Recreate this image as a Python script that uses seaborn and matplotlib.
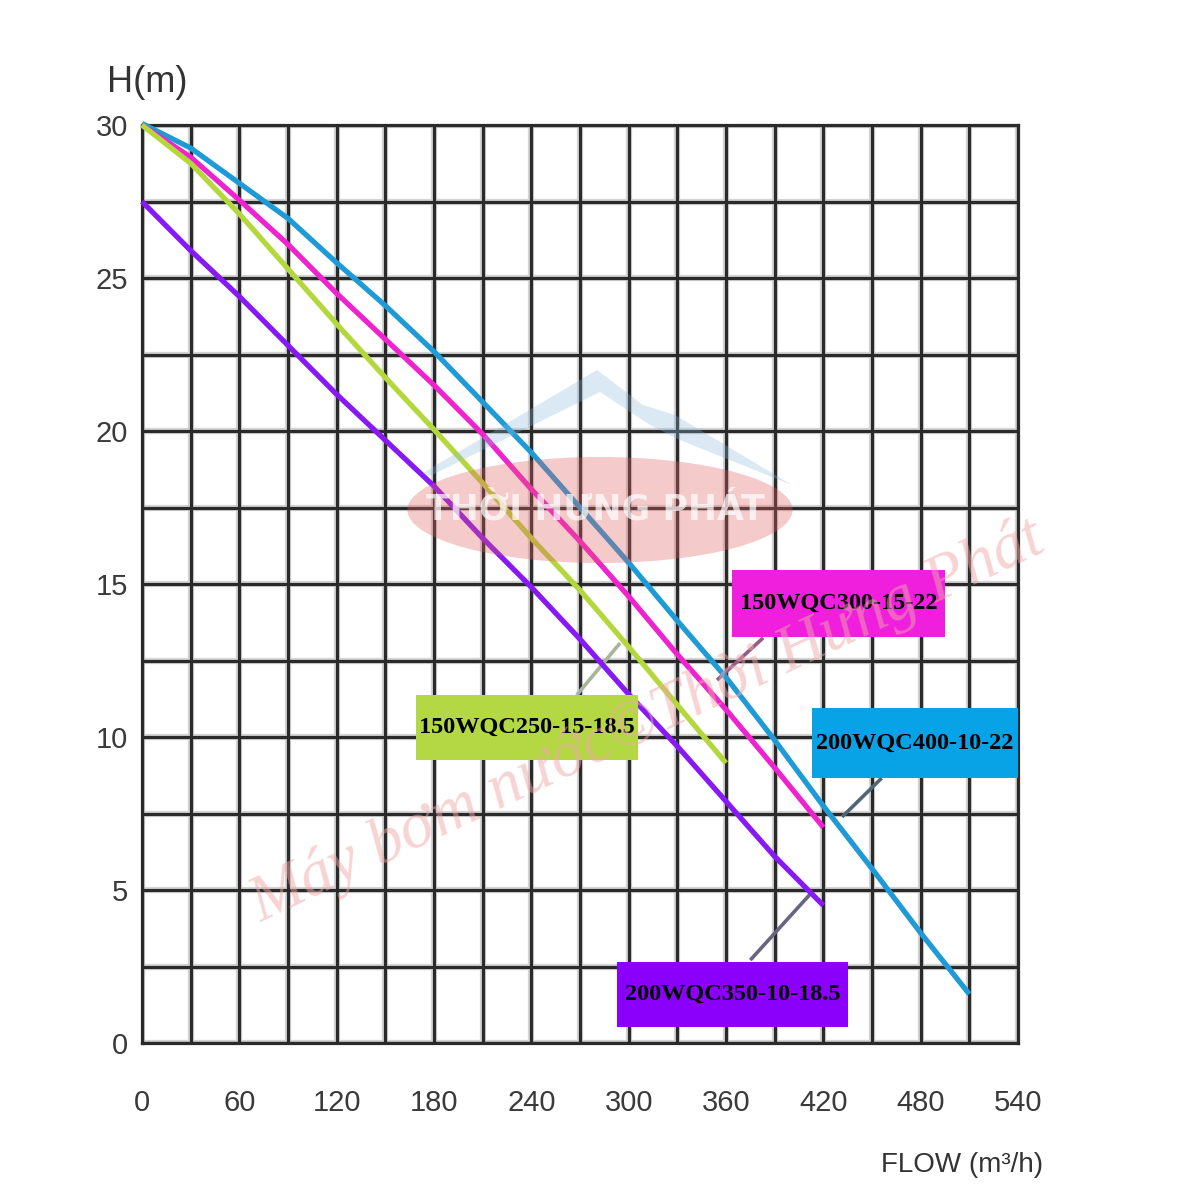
import numpy as np
import pandas as pd
import matplotlib
matplotlib.use("Agg")
import matplotlib.pyplot as plt
import seaborn as sns
from matplotlib.patches import Rectangle, Ellipse, Polygon

# ---------------- data ----------------
flow_400 = [0, 30, 60, 90, 120, 150, 180, 210, 240, 270, 300, 330, 360, 390, 420, 450, 480, 510]
head_400 = [30.05, 29.25, 28.1, 26.95, 25.5, 24.1, 22.6, 20.95, 19.3, 17.5, 15.7, 13.8, 11.95, 9.9, 7.75, 5.7, 3.6, 1.6]

flow_300 = [0, 30, 60, 90, 120, 150, 180, 210, 240, 270, 300, 330, 360, 390, 420]
head_300 = [30.0, 28.95, 27.55, 26.1, 24.5, 23.0, 21.5, 19.9, 18.1, 16.4, 14.6, 12.7, 10.9, 9.0, 7.05]

flow_250 = [0, 30, 60, 90, 120, 150, 180, 210, 240, 270, 300, 330, 360]
head_250 = [30.0, 28.75, 27.1, 25.3, 23.5, 21.75, 20.05, 18.3, 16.5, 14.8, 12.95, 11.05, 9.15]

flow_350 = [0, 30, 60, 90, 120, 150, 180, 210, 240, 270, 300, 330, 360, 390, 420]
head_350 = [27.5, 25.9, 24.4, 22.8, 21.2, 19.7, 18.2, 16.5, 14.9, 13.2, 11.4, 9.7, 7.9, 6.1, 4.5]

models = ["200WQC400-10-22", "150WQC300-15-22", "150WQC250-15-18.5", "200WQC350-10-18.5"]
line_colors = ["#1e9bd7", "#ef22cf", "#b4d73c", "#8719f5"]
box_colors = ["#08a2e6", "#ef1fdd", "#b3d843", "#8a00fa"]

x_ticks = [0, 60, 120, 180, 240, 300, 360, 420, 480, 540]
x_minor = [30, 90, 150, 210, 270, 330, 390, 450, 510]
y_ticks = [0, 5, 10, 15, 20, 25, 30]
y_minor = [2.5, 7.5, 12.5, 17.5, 22.5, 27.5]

x_label = "FLOW (m³/h)"
y_label = "H(m)"
watermark = "Máy bơm nước©Thời Hưng Phát"
logo_text = "THỜI HƯNG PHÁT"

# ---------------- layout constants ----------------
box_pos = {
    "150WQC300-15-22": (363.7, 13.27, 495.0, 15.46),
    "150WQC250-15-18.5": (168.9, 9.25, 305.8, 11.37),
    "200WQC400-10-22": (413.0, 8.66, 540.0, 10.95),
    "200WQC350-10-18.5": (292.8, 0.52, 435.3, 2.65),
}
leader_pos = {
    "150WQC300-15-22": ((382.9, 354.5), (13.24, 11.86), "#9a5a86"),
    "150WQC250-15-18.5": ((268.0, 294.7), (11.37, 13.07), "#a7b59c"),
    "200WQC400-10-22": ((456.0, 431.6), (8.66, 7.39), "#4f6676"),
    "200WQC350-10-18.5": ((413.0, 375.0), (4.93, 2.71), "#6a6480"),
}

# ---------------- figure ----------------
sns.set_theme(style="white")
plt.rcParams['font.family'] = ['Liberation Sans', 'DejaVu Sans']

fig = plt.figure(figsize=(12, 12), dpi=100)
fig.patch.set_facecolor("white")
ax = fig.add_axes([0.1183, 0.1308, 0.7300, 0.7650])

frames = []
for m, fx, hy in zip(models, [flow_400, flow_300, flow_250, flow_350],
                     [head_400, head_300, head_250, head_350]):
    frames.append(pd.DataFrame({"flow": fx, "head": hy, "model": m}))
df = pd.concat(frames, ignore_index=True)

# grid halo
ax.vlines(x_ticks + x_minor, 0, 30, color="#d4d4d4", lw=4.5, zorder=0.3)
ax.hlines(y_ticks + y_minor, 0, 540, color="#d4d4d4", lw=4.5, zorder=0.3)

sns.lineplot(data=df, x="flow", y="head", hue="model", hue_order=models,
             palette=dict(zip(models, line_colors)), sort=False, estimator=None,
             lw=3.8, legend=False, ax=ax, zorder=3)
for ln in ax.lines:
    ln.set_clip_on(False)
    ln.set_solid_capstyle("butt")

ax.set_xlim(0, 540)
ax.set_ylim(0, 30)
ax.set_xticks(x_ticks)
ax.set_xticks(x_minor, minor=True)
ax.set_yticks(y_ticks)
ax.set_yticks(y_minor, minor=True)
ax.set_xticklabels([str(v) for v in x_ticks])
ax.set_yticklabels([str(v) for v in y_ticks])
ax.grid(which="both", color="#2a2a2a", lw=2.3, zorder=0.5)
ax.set_axisbelow(True)
ax.tick_params(which="both", length=0)
ax.tick_params(axis="x", pad=33, labelsize=21, labelcolor="#3a3a3a")
ax.tick_params(axis="y", pad=10, labelsize=21, labelcolor="#3a3a3a")
for s in ax.spines.values():
    s.set_color("#2a2a2a")
    s.set_linewidth(2.3)
ax.set_xlabel("")
ax.set_ylabel("")

# label boxes + leader lines
for m, bc in zip(models, box_colors):
    x0, y0, x1, y1 = box_pos[m]
    ax.add_patch(Rectangle((x0, y0), x1 - x0, y1 - y0, facecolor=bc,
                           edgecolor="none", zorder=4, clip_on=False))
    ax.text((x0 + x1) / 2, (y0 + y1) / 2, m, ha="center", va="center",
            fontsize=17.5, fontweight="bold", color="black",
            family=["Liberation Serif", "DejaVu Serif"], zorder=5, clip_on=False)
    lx, ly, lc = leader_pos[m]
    ax.plot(lx, ly, color=lc, lw=2.6, zorder=2.8, solid_capstyle="butt")

# axis titles
fig.text(147 / 1200, 1 - 82 / 1200, y_label, ha="center", va="center",
         fontsize=26, color="#333333")
fig.text(962 / 1200, 1 - 1165 / 1200, x_label, ha="center", va="center",
         fontsize=20, color="#333333")

# watermark logo
def fp(px, py):
    return (px / 1200, 1 - py / 1200)

mount = [fp(423, 473), fp(597, 370), fp(643, 405), fp(675, 415), fp(792, 485),
         fp(680, 440), fp(650, 425), fp(600, 392), fp(430, 476)]
fig.add_artist(Polygon(mount, closed=True, transform=fig.transFigure,
                       facecolor="#8ab8e0", edgecolor="none", alpha=0.3, zorder=5))
fig.add_artist(Ellipse(fp(600, 510), 385 / 1200, 106 / 1200, transform=fig.transFigure,
                       facecolor="#e06060", edgecolor="none", alpha=0.33, zorder=5))
fig.text(595 / 1200, 1 - 510 / 1200, logo_text, ha="center", va="center",
         fontsize=25, fontweight="bold", color="white", alpha=0.7,
         family=["DejaVu Sans"], zorder=6)

# diagonal watermark text
fig.text(648 / 1200, 1 - 722 / 1200, watermark, ha="center", va="center",
         rotation=25.3, rotation_mode="anchor", fontsize=47, style="italic",
         family=["Liberation Serif", "DejaVu Serif"], color="#f0a8a8", alpha=0.5,
         zorder=6)

fig.savefig("out.png", dpi=100, facecolor="white")
